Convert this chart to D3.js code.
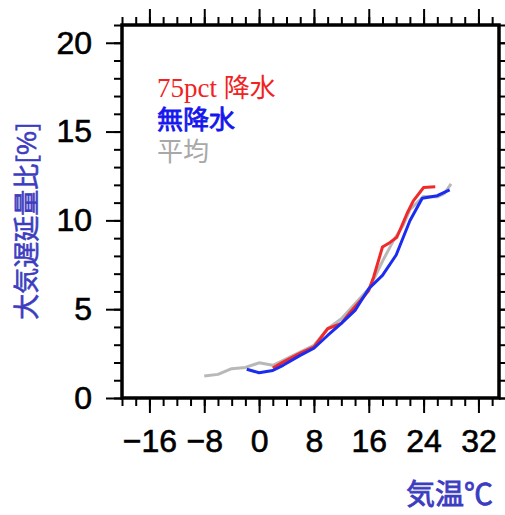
<!DOCTYPE html>
<html><head><meta charset="utf-8">
<script src="https://cdn.jsdelivr.net/npm/d3@7"></script>
<style>body{margin:0;background:#fff}</style>
</head><body>
<script>
// ---- data ----
const avgTemp = [-8, -6, -4, -2, 0, 2, 3, 5, 8, 10, 12, 14, 16, 17, 18, 19.6, 21, 22, 24, 26, 27, 28];
const avgVal  = [1.24, 1.33, 1.65, 1.72, 1.98, 1.84, 2.02, 2.4, 2.96, 3.9, 4.46, 5.3, 6.15, 6.9, 7.7, 8.86, 9.7, 10.6, 11.35, 11.33, 11.5, 12.05];
const p75Temp = [2, 3.5, 6, 8, 10, 12, 13.3, 14.8, 16, 16.7, 18, 19.1, 20.1, 21.6, 22.5, 24, 25.7];
const p75Val  = [1.68, 2.02, 2.53, 2.88, 3.9, 4.2, 4.83, 5.49, 6.05, 6.8, 8.5, 8.76, 9.05, 10.4, 11.1, 11.85, 11.9];
const dryTemp = [-1.8, 0, 2, 3.5, 6, 8, 10, 12, 14, 16, 18, 20, 22, 23.8, 26, 27.8];
const dryVal  = [1.62, 1.42, 1.55, 1.84, 2.4, 2.8, 3.52, 4.2, 4.93, 6.15, 6.9, 8.05, 9.98, 11.25, 11.39, 11.72];
const xTicks = [-16, -8, 0, 8, 16, 24, 32];
const yTicks = [0, 5, 10, 15, 20];
const legendLabels = ["75pct 降水", "無降水", "平均"];
const yTitle = "大気遅延量比[%]";
const xTitle = "気温℃";

const W = 505, H = 515;
const L = 122, R = 499, T = 25, B = 398;
const svg = d3.select("body").append("svg").attr("width", W).attr("height", H);
const x = d3.scaleLinear().domain([-20, 35]).range([L, R]);
const y = d3.scaleLinear().domain([0, 21]).range([B, T]);

const tickFont = "'Liberation Sans', Arial, sans-serif";
const cjk = "'Noto Sans CJK JP', sans-serif";
const minorX = d3.range(-20, 35.01, 2);
const minorY = d3.range(0, 21.01, 1);

function drawAxis(g, axis) {
  g.call(axis);
  g.select(".domain").remove();
  g.selectAll("line").attr("stroke", "#000").attr("stroke-width", 2);
}
// minor ticks
svg.append("g").attr("transform", `translate(0,${B})`).call(g => drawAxis(g, d3.axisBottom(x).tickValues(minorX).tickSize(8).tickFormat("")));
svg.append("g").attr("transform", `translate(0,${T})`).call(g => drawAxis(g, d3.axisTop(x).tickValues(minorX).tickSize(8).tickFormat("")));
svg.append("g").attr("transform", `translate(${L},0)`).call(g => drawAxis(g, d3.axisLeft(y).tickValues(minorY).tickSize(8).tickFormat("")));
svg.append("g").attr("transform", `translate(${R},0)`).call(g => drawAxis(g, d3.axisRight(y).tickValues(minorY).tickSize(8).tickFormat("")));
// major ticks
const fmt = d => d < 0 ? "\u2212" + Math.abs(d) : String(d);
const xb = svg.append("g").attr("transform", `translate(0,${B})`);
drawAxis(xb, d3.axisBottom(x).tickValues(xTicks).tickSize(15).tickPadding(16).tickFormat(fmt));
xb.selectAll("text").attr("font-family", tickFont).attr("font-size", 32).attr("fill", "#000")
  .attr("stroke", "#000").attr("stroke-width", 0.6);
svg.append("g").attr("transform", `translate(0,${T})`).call(g => drawAxis(g, d3.axisTop(x).tickValues(xTicks).tickSize(16).tickFormat("")));
const yl = svg.append("g").attr("transform", `translate(${L},0)`);
drawAxis(yl, d3.axisLeft(y).tickValues(yTicks).tickSize(16).tickPadding(14).tickFormat(d => d));
yl.selectAll("text").attr("font-family", tickFont).attr("font-size", 32).attr("fill", "#000")
  .attr("stroke", "#000").attr("stroke-width", 0.6);
svg.append("g").attr("transform", `translate(${R},0)`).call(g => drawAxis(g, d3.axisRight(y).tickValues(yTicks).tickSize(16).tickFormat("")));

// frame
svg.append("rect").attr("x", L).attr("y", T).attr("width", R - L).attr("height", B - T)
  .attr("fill", "none").attr("stroke", "#000").attr("stroke-width", 3.5);

// lines
const line = d3.line().x(d => x(d[0])).y(d => y(d[1]));
const series = [
  {t: avgTemp, v: avgVal, c: "#b8b8b8"},
  {t: p75Temp, v: p75Val, c: "#f02a2a"},
  {t: dryTemp, v: dryVal, c: "#1a2cf0"}
];
series.forEach(s => {
  svg.append("path").datum(d3.zip(s.t, s.v)).attr("d", line)
    .attr("fill", "none").attr("stroke", s.c).attr("stroke-width", 3).attr("stroke-linejoin", "round");
});

// legend
const lg = svg.append("text").attr("x", 157).attr("y", 97).attr("fill", "#f02222").attr("font-size", 26);
lg.append("tspan").attr("font-family", "'Liberation Serif', 'Times New Roman', serif").attr("font-size", 27).text(legendLabels[0].split(" ")[0] + " ");
lg.append("tspan").attr("font-family", cjk).text(legendLabels[0].split(" ")[1]);
svg.append("text").attr("x", 157).attr("y", 129).attr("fill", "#1515ee").attr("font-size", 26)
  .attr("font-family", cjk).attr("stroke", "#1515ee").attr("stroke-width", 0.8).text(legendLabels[1]);
svg.append("text").attr("x", 157).attr("y", 161).attr("fill", "#a8a8a8").attr("font-size", 26)
  .attr("font-family", cjk).text(legendLabels[2]);

// axis titles
svg.append("text").attr("transform", `translate(36,221) rotate(-90)`).attr("text-anchor", "middle")
  .attr("fill", "#3c3cc0").attr("font-size", 26).attr("font-family", cjk)
  .attr("stroke", "#3c3cc0").attr("stroke-width", 0.6).text(yTitle);
svg.append("text").attr("x", 493).attr("y", 505).attr("text-anchor", "end")
  .attr("fill", "#3c3cc0").attr("font-size", 29).attr("font-family", cjk)
  .attr("stroke", "#3c3cc0").attr("stroke-width", 0.8).text(xTitle);
</script>
</body></html>
